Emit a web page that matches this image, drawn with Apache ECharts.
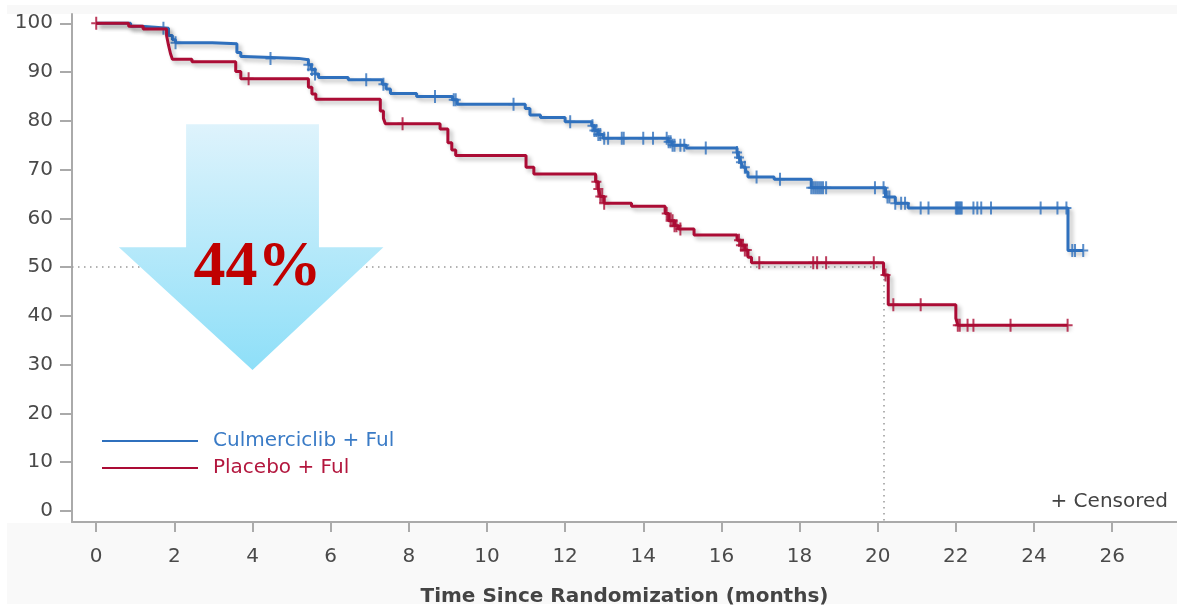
<!DOCTYPE html>
<html><head><meta charset="utf-8">
<script src="https://cdn.jsdelivr.net/npm/echarts@6/dist/echarts.min.js"></script>
<style>html,body{margin:0;padding:0;background:#fff;}#c{width:1177px;height:606px;}</style>
</head><body><div id="c"></div>
<script>
// ---- data ----
const seriesNames = ['Culmerciclib + Ful', 'Placebo + Ful'];
const xTicks = [0,2,4,6,8,10,12,14,16,18,20,22,24,26];
const yTicks = [0,10,20,30,40,50,60,70,80,90,100];
// Kaplan-Meier steps [month, % event-free]
const blueSteps = [[0,100],[0.88,99.4],[1.15,99.0],[1.85,97.5],[1.95,96.6],[2.03,96.0],[2.97,95.8],[3.6,94.0],[3.7,93.2],[3.77,92.8],[5.18,92.5],[5.43,91.5],[5.5,90.5],[5.6,89.6],[5.69,88.9],[6.45,88.4],[7.32,87.5],[7.42,86.5],[7.53,85.6],[8.2,85.0],[9.12,84.3],[9.24,83.4],[10.98,82.5],[11.1,81.2],[11.37,80.7],[12.0,79.8],[12.68,79.0],[12.75,78.0],[12.85,77.2],[12.97,76.4],[14.64,75.7],[14.74,75.0],[15.1,74.4],[16.4,73.5],[16.45,72.5],[16.5,71.5],[16.55,70.5],[16.62,69.5],[16.68,68.5],[17.35,68.0],[18.3,66.3],[20.2,64.4],[20.45,63.1],[20.78,62.1],[24.87,53.4],[25.26,53.4]];
const redSteps = [[0,100],[0.83,99.4],[1.2,98.8],[1.8,97.5],[1.85,95.5],[1.9,93.8],[1.95,92.6],[2.45,92.1],[3.57,90.1],[3.7,88.6],[5.43,86.9],[5.52,85.5],[5.62,84.4],[7.27,82.0],[7.35,80.5],[7.4,79.4],[8.8,78.3],[9.0,75.5],[9.1,74.0],[9.2,72.9],[11.0,70.5],[11.2,69.1],[12.78,67.5],[12.85,66.0],[12.9,64.5],[13.0,63.1],[13.7,62.5],[14.56,61.0],[14.65,59.5],[14.8,58.5],[14.9,57.8],[15.3,56.6],[16.4,55.5],[16.5,54.5],[16.6,53.5],[16.68,52.0],[16.77,50.9],[20.15,48.4],[20.27,42.3],[22.0,39.5],[22.05,38.1],[24.86,38.1]];
// censoring times (months)
const blueCensor = [1.72,2.03,4.46,5.43,5.52,5.6,6.91,7.35,8.67,9.15,9.2,10.68,12.13,12.7,12.75,12.8,12.85,12.9,13.0,13.1,13.45,13.5,14.0,14.25,14.6,14.65,14.7,14.75,14.8,14.95,15.05,15.6,16.4,16.45,16.5,16.6,16.9,17.5,18.3,18.35,18.4,18.45,18.5,18.55,18.6,18.68,19.93,20.15,20.25,20.3,20.45,20.6,20.7,21.1,21.3,22.0,22.03,22.06,22.09,22.12,22.15,22.45,22.55,22.65,22.9,24.17,24.6,24.83,24.98,25.05,25.26];
const redCensor = [0,3.9,7.84,12.8,12.85,12.9,12.95,13.0,14.6,14.7,14.75,14.8,14.85,14.95,16.45,16.5,16.55,16.6,16.65,16.97,18.35,18.45,18.68,19.9,20.2,20.4,21.1,22.05,22.1,22.3,22.45,23.4,24.86];
const medianLevel = 50;
const medianPlacebo = 20.15;
const reductionLabel = '44%';

// ---- build ----
function stepValue(steps, t){ let v = steps[0][1]; for (const s of steps){ if (s[0] <= t) v = s[1]; else break; } return v; }
const blue = '#2f70bd', red = '#ab0c35';
const plus = 'path://M4,0L6,0L6,5.5L10,5.5L10,7.5L6,7.5L6,13L4,13L4,7.5L0,7.5L0,5.5L4,5.5Z';
const xMin = -0.62, xMax = 27.66, yMin = -2.26, yMax = 101.9;
const shadow = {shadowColor:'rgba(0,0,0,0.28)', shadowBlur:4, shadowOffsetX:3, shadowOffsetY:3};
const font = 'DejaVu Sans';

const chart = echarts.init(document.getElementById('c'), null, {renderer:'canvas'});
chart.setOption({
  animation:false,
  backgroundColor:'#fff',
  grid:{left:72, top:14, right:0, bottom:84, containLabel:false, outerBoundsMode:'none'},
  legend:{
    data:[{name:seriesNames[0], textStyle:{color:'#3a7bc6'}},{name:seriesNames[1], textStyle:{color:'#b3173e'}}],
    orient:'vertical', left:102, top:431, padding:0, itemGap:7,
    icon:'rect', itemWidth:96, itemHeight:2,
    textStyle:{fontFamily:font, fontSize:20, padding:[0,0,0,10]}
  },
  xAxis:{type:'value', min:xMin, max:xMax,
    axisLine:{show:true, onZero:false, lineStyle:{color:'#aaa', width:2}},
    axisTick:{show:true, length:10, customValues:xTicks, lineStyle:{color:'#aaa', width:2}},
    axisLabel:{customValues:xTicks, margin:25, color:'#4a4a4a', fontFamily:font, fontSize:20},
    splitLine:{show:false},
    name:'Time Since Randomization (months)', nameLocation:'middle', nameGap:65,
    nameTextStyle:{fontFamily:font, fontSize:20, fontWeight:'bold', color:'#444'}
  },
  yAxis:{type:'value', min:yMin, max:yMax,
    axisLine:{show:true, onZero:false, lineStyle:{color:'#aaa', width:2}},
    axisTick:{show:true, length:12, customValues:yTicks, lineStyle:{color:'#aaa', width:2}},
    axisLabel:{customValues:yTicks, margin:19, color:'#4a4a4a', fontFamily:font, fontSize:20},
    splitLine:{show:false}
  },
  series:[
    {name:seriesNames[0], type:'line', step:'end', data:blueSteps, showSymbol:false, color:blue,
     lineStyle:Object.assign({width:3, color:blue}, shadow), z:3},
    {name:'blueCensor', type:'scatter', data:blueCensor.map(t=>[t, stepValue(blueSteps,t)]),
     symbol:plus, symbolSize:[10,13], itemStyle:{color:blue}, z:4, silent:true},
    {name:seriesNames[1], type:'line', step:'end', data:redSteps, showSymbol:false, color:red,
     lineStyle:Object.assign({width:3, color:red}, shadow), z:5,
     markLine:{silent:true, symbol:['none','none'], label:{show:false},
       lineStyle:{type:[1.5,4.5], color:'#999', width:1.5, shadowBlur:0, shadowOffsetX:0, shadowOffsetY:0},
       data:[[{coord:[xMin,medianLevel]},{coord:[medianPlacebo,medianLevel]}],
             [{coord:[medianPlacebo,medianLevel]},{coord:[medianPlacebo,yMin]}]]}},
    {name:'redCensor', type:'scatter', data:redCensor.map(t=>[t, stepValue(redSteps,t)]),
     symbol:plus, symbolSize:[10,13], itemStyle:{color:red}, z:6, silent:true}
  ]
});

// annotations anchored to the axes
const P = (x,y)=>chart.convertToPixel({gridIndex:0},[x,y]);
const arrowPts = [P(2.3,79.3),P(5.7,79.3),P(5.7,54.1),P(7.35,54.1),P(4.0,28.9),P(0.58,54.1),P(2.3,54.1)];
const txt = P(4.13,49.8);
chart.setOption({graphic:[
  {type:'rect', shape:{x:7,y:5,width:1170,height:9}, style:{fill:'#f8f8f8'}, z:0, silent:true},
  {type:'rect', shape:{x:7,y:523,width:1170,height:81}, style:{fill:'#f9f9f9'}, z:0, silent:true},
  {type:'polygon', shape:{points:arrowPts}, z:20, silent:true,
   style:{fill:new echarts.graphic.LinearGradient(0,0,0,1,[{offset:0,color:'#def3fc'},{offset:1,color:'#8edff8'}])}},
  {type:'text', x:txt[0], y:txt[1], z:21, silent:true,
   style:{text:reductionLabel, fill:'#c00000', font:'bold 64px "Liberation Serif"', align:'center', verticalAlign:'middle'}},
  {type:'text', x:1168, y:502, z:21, silent:true,
   style:{text:'+ Censored', fill:'#444', font:'20px "DejaVu Sans"', align:'right', verticalAlign:'middle'}}
]});
</script></body></html>
